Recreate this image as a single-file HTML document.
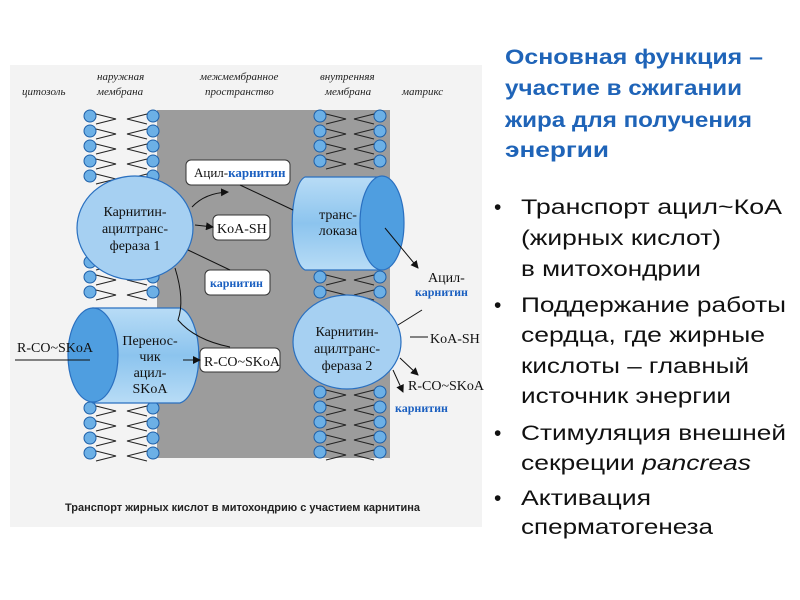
<!DOCTYPE html>
<html><head><meta charset="utf-8"><style>
body{margin:0;background:#fff;}
svg{display:block}
</style></head><body>
<svg width="800" height="600" viewBox="0 0 800 600" xmlns="http://www.w3.org/2000/svg">
<defs>
<marker id="ar" markerWidth="8" markerHeight="8" refX="7" refY="4" orient="auto" markerUnits="userSpaceOnUse"><path d="M0,0 L8,4 L0,8 z" fill="#111"/></marker>
<linearGradient id="cyl" x1="0" y1="0" x2="0" y2="1"><stop offset="0" stop-color="#b8dcf6"/><stop offset="0.5" stop-color="#8cc4ee"/><stop offset="1" stop-color="#b8dcf6"/></linearGradient>
<g id="lipL"><circle cx="0" cy="0" r="6" fill="#6cb0e6" stroke="#1d5fa8" stroke-width="1"/><polyline points="6,-2 26,3 6,8" fill="none" stroke="#222" stroke-width="1"/></g>
<g id="lipR"><circle cx="0" cy="0" r="6" fill="#6cb0e6" stroke="#1d5fa8" stroke-width="1"/><polyline points="-6,-2 -26,3 -6,8" fill="none" stroke="#222" stroke-width="1"/></g>
</defs>
<rect x="10" y="65" width="472" height="462" fill="#f3f3f3"/>
<rect x="157" y="110" width="233" height="348" fill="#9c9c9c"/>
<g id="lipids">
<use href="#lipL" x="90" y="116"/><use href="#lipL" x="90" y="131"/><use href="#lipL" x="90" y="146"/><use href="#lipL" x="90" y="161"/><use href="#lipL" x="90" y="176"/>
<use href="#lipL" x="90" y="262"/><use href="#lipL" x="90" y="277"/><use href="#lipL" x="90" y="292"/>
<use href="#lipL" x="90" y="408"/><use href="#lipL" x="90" y="423"/><use href="#lipL" x="90" y="438"/><use href="#lipL" x="90" y="453"/>
<use href="#lipR" x="153" y="116"/><use href="#lipR" x="153" y="131"/><use href="#lipR" x="153" y="146"/><use href="#lipR" x="153" y="161"/><use href="#lipR" x="153" y="176"/>
<use href="#lipR" x="153" y="262"/><use href="#lipR" x="153" y="277"/><use href="#lipR" x="153" y="292"/>
<use href="#lipR" x="153" y="408"/><use href="#lipR" x="153" y="423"/><use href="#lipR" x="153" y="438"/><use href="#lipR" x="153" y="453"/>
<use href="#lipL" x="320" y="116"/><use href="#lipL" x="320" y="131"/><use href="#lipL" x="320" y="146"/><use href="#lipL" x="320" y="161"/>
<use href="#lipL" x="320" y="277"/><use href="#lipL" x="320" y="292"/>
<use href="#lipL" x="320" y="392"/><use href="#lipL" x="320" y="407"/><use href="#lipL" x="320" y="422"/><use href="#lipL" x="320" y="437"/><use href="#lipL" x="320" y="452"/>
<use href="#lipR" x="380" y="116"/><use href="#lipR" x="380" y="131"/><use href="#lipR" x="380" y="146"/><use href="#lipR" x="380" y="161"/>
<use href="#lipR" x="380" y="277"/><use href="#lipR" x="380" y="292"/>
<use href="#lipR" x="380" y="392"/><use href="#lipR" x="380" y="407"/><use href="#lipR" x="380" y="422"/><use href="#lipR" x="380" y="437"/><use href="#lipR" x="380" y="452"/>
</g>
<path d="M93,308 L180,308 A22,48 0 0 1 180,403 L93,403 Z" fill="url(#cyl)" stroke="#2a70c0" stroke-width="1.2"/>
<ellipse cx="93" cy="355" rx="25" ry="47" fill="#4f9ee0" stroke="#2a70c0" stroke-width="1.2"/>
<ellipse cx="135" cy="228" rx="58" ry="52" fill="#a6d0f2" stroke="#2a70c0" stroke-width="1.2"/>
<path d="M382,177 L305,177 A15,47 0 0 0 305,270 L382,270 Z" fill="url(#cyl)" stroke="#2a70c0" stroke-width="1.2"/>
<ellipse cx="382" cy="223" rx="22" ry="47" fill="#4f9ee0" stroke="#2a70c0" stroke-width="1.2"/>
<ellipse cx="347" cy="342" rx="54" ry="47" fill="#a6d0f2" stroke="#2a70c0" stroke-width="1.2"/>
<g font-family="Liberation Serif, serif" font-size="14" fill="#111">
<rect x="186" y="160" width="104" height="25" rx="5" fill="#fff" stroke="#333"/>
<text x="194" y="177" font-size="13">Ацил-<tspan fill="#1a5fc0" font-weight="bold">карнитин</tspan></text>
<rect x="213" y="215" width="57" height="25" rx="5" fill="#fff" stroke="#333"/>
<text x="217" y="233">KoA-SH</text>
<rect x="205" y="270" width="65" height="25" rx="5" fill="#fff" stroke="#333"/>
<text x="210" y="287" fill="#1a5fc0" font-weight="bold" font-size="12">карнитин</text>
<rect x="200" y="348" width="80" height="24" rx="5" fill="#fff" stroke="#333"/>
<text x="204" y="366">R-CO~SKoA</text>
<text x="135" y="216" text-anchor="middle">Карнитин-</text>
<text x="135" y="233" text-anchor="middle">ацилтранс-</text>
<text x="135" y="250" text-anchor="middle">фераза 1</text>
<text x="150" y="345" text-anchor="middle">Перенос-</text>
<text x="150" y="361" text-anchor="middle">чик</text>
<text x="150" y="377" text-anchor="middle">ацил-</text>
<text x="150" y="393" text-anchor="middle">SKoA</text>
<text x="338" y="219" text-anchor="middle">транс-</text>
<text x="338" y="235" text-anchor="middle">локаза</text>
<text x="347" y="336" text-anchor="middle">Карнитин-</text>
<text x="347" y="353" text-anchor="middle">ацилтранс-</text>
<text x="347" y="370" text-anchor="middle">фераза 2</text>
<text x="17" y="352">R-CO~SKoA</text>
<line x1="15" y1="360" x2="90" y2="360" stroke="#111"/>
<text x="428" y="282">Ацил-</text>
<text x="415" y="296" fill="#1a5fc0" font-weight="bold" font-size="12">карнитин</text>
<text x="430" y="343">KoA-SH</text>
<text x="408" y="390">R-CO~SKoA</text>
<text x="395" y="412" fill="#1a5fc0" font-weight="bold" font-size="12">карнитин</text>
</g>
<g stroke="#111" stroke-width="1" fill="none">
<path d="M192,207 Q205,193 228,192" marker-end="url(#ar)"/>
<line x1="195" y1="225" x2="213" y2="227" marker-end="url(#ar)"/>
<line x1="188" y1="250" x2="230" y2="270"/>
<line x1="240" y1="185" x2="293" y2="210"/>
<path d="M175,268 Q185,300 178,320 Q195,340 230,347"/>
<line x1="183" y1="360" x2="200" y2="360" marker-end="url(#ar)"/>
<line x1="385" y1="228" x2="418" y2="268" marker-end="url(#ar)"/>
<line x1="398" y1="325" x2="422" y2="310"/>
<line x1="410" y1="337" x2="428" y2="337"/>
<line x1="400" y1="358" x2="418" y2="375" marker-end="url(#ar)"/>
<line x1="393" y1="370" x2="403" y2="392" marker-end="url(#ar)"/>
</g>
<g font-family="Liberation Serif, serif" font-style="italic" font-size="11" fill="#222">
<text x="22" y="95">цитозоль</text>
<text x="97" y="80">наружная</text><text x="97" y="95">мембрана</text>
<text x="200" y="80">межмембранное</text><text x="205" y="95">пространство</text>
<text x="320" y="80">внутренняя</text><text x="325" y="95">мембрана</text>
<text x="402" y="95">матрикс</text>
</g>
<text x="65" y="511" font-family="Liberation Sans, sans-serif" font-weight="bold" font-size="11" fill="#222" textLength="355" lengthAdjust="spacingAndGlyphs">Транспорт жирных кислот в митохондрию с участием карнитина</text>
<g font-family="Liberation Sans, sans-serif" font-weight="bold" font-size="21" fill="#1f64b8">
<text x="505" y="64" textLength="258" lengthAdjust="spacingAndGlyphs">Основная функция –</text>
<text x="505" y="95" textLength="237" lengthAdjust="spacingAndGlyphs">участие в сжигании</text>
<text x="505" y="127" textLength="247" lengthAdjust="spacingAndGlyphs">жира для получения</text>
<text x="505" y="157" textLength="104" lengthAdjust="spacingAndGlyphs">энергии</text>
</g>
<g font-family="Liberation Sans, sans-serif" font-size="21" fill="#111">
<text x="494" y="214">•</text><text x="521" y="214" textLength="261" lengthAdjust="spacingAndGlyphs">Транспорт ацил~КоА</text>
<text x="521" y="245" textLength="200" lengthAdjust="spacingAndGlyphs">(жирных кислот)</text>
<text x="521" y="276" textLength="180" lengthAdjust="spacingAndGlyphs">в митохондрии</text>
<text x="494" y="312">•</text><text x="521" y="312" textLength="265" lengthAdjust="spacingAndGlyphs">Поддержание работы</text>
<text x="521" y="342" textLength="244" lengthAdjust="spacingAndGlyphs">сердца, где жирные</text>
<text x="521" y="373" textLength="228" lengthAdjust="spacingAndGlyphs">кислоты – главный</text>
<text x="521" y="403" textLength="210" lengthAdjust="spacingAndGlyphs">источник энергии</text>
<text x="494" y="440">•</text><text x="521" y="440" textLength="265" lengthAdjust="spacingAndGlyphs">Стимуляция внешней</text>
<text x="521" y="470" textLength="230" lengthAdjust="spacingAndGlyphs">секреции <tspan font-style="italic">pancreas</tspan></text>
<text x="494" y="505">•</text><text x="521" y="505" textLength="130" lengthAdjust="spacingAndGlyphs">Активация</text>
<text x="521" y="534" textLength="192" lengthAdjust="spacingAndGlyphs">сперматогенеза</text>
</g>
</svg>
</body></html>
